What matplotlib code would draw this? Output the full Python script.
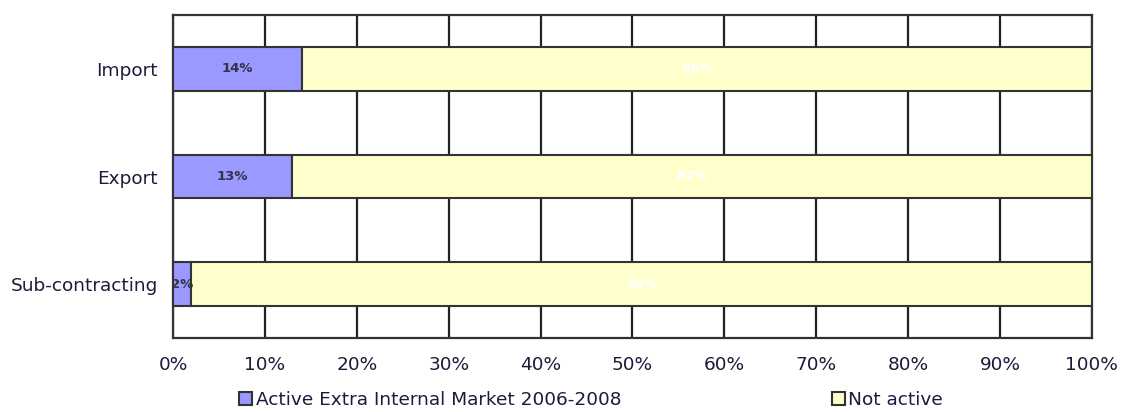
import matplotlib
matplotlib.use("Agg")
import matplotlib.pyplot as plt
import numpy as np

categories = ["Import", "Export", "Sub-contracting"]
active = [14, 13, 2]
not_active = [86, 87, 98]
series_names = ["Active Extra Internal Market 2006-2008", "Not active"]
x_ticks = list(range(0, 101, 10))
x_tick_labels = ["%d%%" % t for t in x_ticks]

C_ACTIVE = "#9999FF"
C_NOT = "#FFFFCC"
EDGE = "#333333"
TXT = "#1c1c3a"

fig = plt.figure(figsize=(11.28, 4.12), dpi=100)
ax = fig.add_axes([0.1534, 0.1796, 0.8146, 0.784])

y = np.arange(len(categories))
h = 0.405
b1 = ax.barh(y, active, height=h, color=C_ACTIVE, edgecolor=EDGE, lw=1.5,
             label=series_names[0], zorder=3)
b2 = ax.barh(y, not_active, left=active, height=h, color=C_NOT, edgecolor=EDGE,
             lw=1.5, label=series_names[1], zorder=3)

for i in range(len(categories)):
    ax.text(active[i] / 2, y[i], "%d%%" % active[i], ha="center", va="center",
            fontsize=9.5, fontweight="bold", color="#333344", zorder=4)
    ax.text(active[i] + not_active[i] / 2, y[i], "%d%%" % not_active[i],
            ha="center", va="center", fontsize=9.5, fontweight="bold",
            color="white", zorder=4)

ax.set_xlim(0, 100)
ax.set_ylim(len(categories) - 0.5, -0.5)
ax.set_yticks(y)
ax.set_yticklabels(categories)
ax.set_xticks(x_ticks)
ax.set_xticklabels(x_tick_labels)
ax.tick_params(axis="both", length=0, labelsize=13.3, colors=TXT)
ax.tick_params(axis="y", pad=11)
ax.tick_params(axis="x", pad=13)
ax.xaxis.grid(True, color="#222222", lw=1.6, zorder=1)
ax.set_axisbelow(True)
for s in ax.spines.values():
    s.set_color("#333333")
    s.set_linewidth(1.6)

fig.legend(handles=[b1, b2], labels=series_names, loc="center",
           bbox_to_anchor=(0.524, 0.03), ncol=2, frameon=False,
           fontsize=13.3, handlelength=0.7, handleheight=0.7,
           handletextpad=0.2, columnspacing=11.4, labelcolor=TXT)

fig.savefig("out.png", dpi=100)
